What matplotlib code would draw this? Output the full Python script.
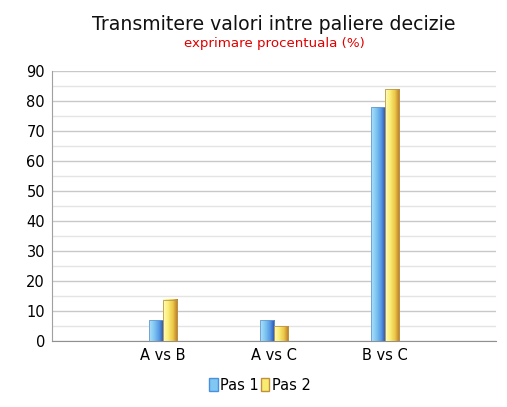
import matplotlib
matplotlib.use("Agg")
import matplotlib.pyplot as plt
import numpy as np
from matplotlib.colors import LinearSegmentedColormap
from matplotlib.patches import Rectangle, Patch

categories = ["A vs B", "A vs C", "B vs C"]
pas1 = [7, 7, 78]
pas2 = [13.7, 5, 84]
series_names = ["Pas 1", "Pas 2"]

plt.rcParams['font.family'] = ['DejaVu Sans']

fig = plt.figure(figsize=(5.07, 4.07), dpi=100)
ax = fig.add_axes([52/507, 66/407, 444/507, 270/407])

blue_cmap = LinearSegmentedColormap.from_list("b", ["#b0e0fa", "#80c8f2", "#5a9ce6", "#2a4fa8"])
yellow_cmap = LinearSegmentedColormap.from_list("y", ["#fffcc0", "#faee78", "#ecc848", "#b8742a"])

x = np.arange(1, len(categories) + 1)
w = 0.13
grad = np.linspace(0, 1, 64).reshape(1, -1)

def grad_bar(xc, h, cmap, edge):
    x0 = xc - w / 2
    ax.imshow(grad, cmap=cmap, extent=[x0, x0 + w, 0, h], aspect='auto', zorder=3)
    ax.add_patch(Rectangle((x0, 0), w, h, fill=False, edgecolor=edge, linewidth=0.6, zorder=4))

for xi, v1, v2 in zip(x, pas1, pas2):
    grad_bar(xi - w / 2, v1, blue_cmap, "#6a9ad0")
    grad_bar(xi + w / 2, v2, yellow_cmap, "#b89848")

ax.set_xlim(0, 4)
ax.set_ylim(0, 90)
ax.set_xticks(x)
ax.set_xticklabels(categories, fontsize=10.5)
ax.set_yticks(np.arange(0, 91, 10))
ax.set_yticklabels([str(v) for v in range(0, 91, 10)], fontsize=10.5)
ax.set_yticks(np.arange(5, 90, 10), minor=True)
ax.yaxis.grid(True, which='major', color='#c8c8c8', linewidth=1, zorder=0)
ax.yaxis.grid(True, which='minor', color='#e4e4e4', linewidth=1, zorder=0)
ax.set_axisbelow(True)
ax.tick_params(axis='both', length=0, pad=5)
ax.tick_params(axis='y', which='minor', length=0)
for s in ['top', 'right']:
    ax.spines[s].set_visible(False)
ax.spines['left'].set_color('#a0a0a0')
ax.spines['bottom'].set_color('#909090')

fig.text(274/507, 1 - 25/407, "Transmitere valori intre paliere decizie", ha='center', va='center', fontsize=13.6, color='#111111')
fig.text(274/507, 1 - 44/407, "exprimare procentuala (%)", ha='center', va='center', fontsize=9.6, color='#e00000')

handles = [Patch(facecolor="#80c8f2", edgecolor="#4a8fe0"), Patch(facecolor="#f8ec70", edgecolor="#c09040")]
fig.legend(handles, series_names, loc='center', bbox_to_anchor=(260/507, 1 - 385/407), ncol=2, frameon=False,
           fontsize=10.5, handlelength=0.6, handleheight=0.9, handletextpad=0.2, columnspacing=0.1)

fig.savefig("out.png", dpi=100)
